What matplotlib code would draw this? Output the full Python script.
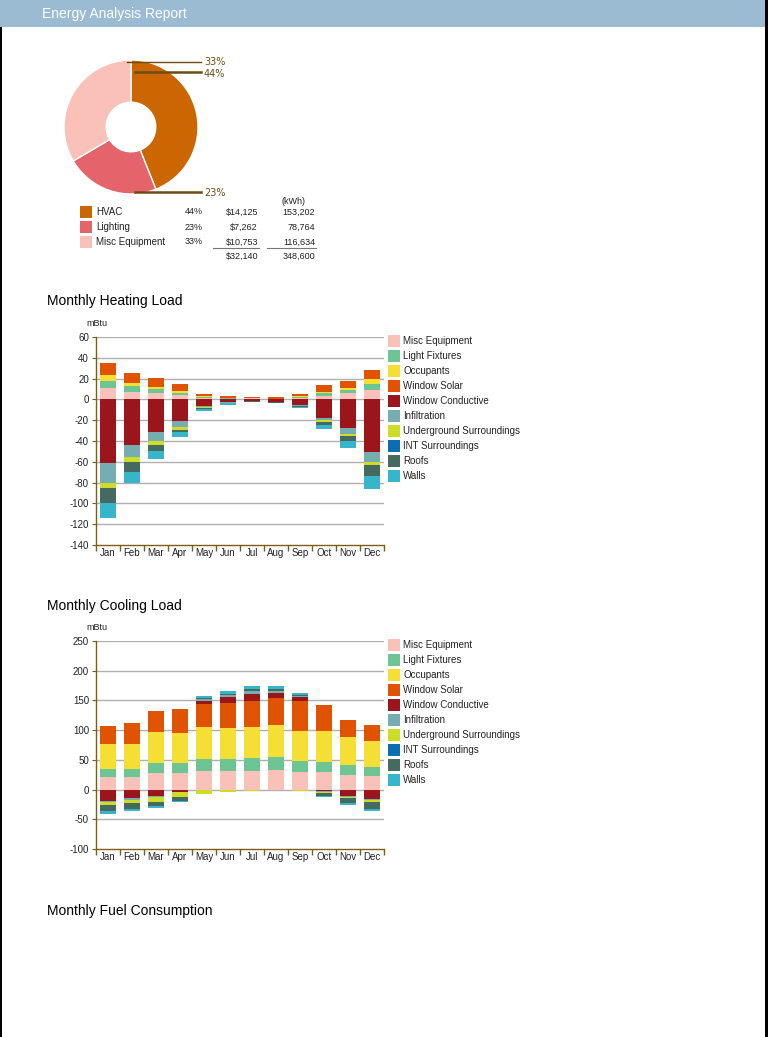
import matplotlib.pyplot as plt
from matplotlib.patches import Rectangle
from matplotlib.lines import Line2D
import numpy as np

plt.rcParams['font.family'] = ['Liberation Sans', 'DejaVu Sans']
plt.rcParams['axes.unicode_minus'] = False

W, H = 768, 1037

# ---- data ----
months = ['Jan', 'Feb', 'Mar', 'Apr', 'May', 'Jun', 'Jul', 'Aug', 'Sep', 'Oct', 'Nov', 'Dec']

pie_names = ['HVAC', 'Lighting', 'Misc Equipment']
pie_kwh = [153202, 78764, 116634]
pie_cost = [14125, 7262, 10753]

series_names = ['Misc Equipment', 'Light Fixtures', 'Occupants', 'Window Solar',
                'Window Conductive', 'Infiltration', 'Underground Surroundings',
                'INT Surroundings', 'Roofs', 'Walls']
series_colors = ['#f9c1b7', '#6cc593', '#f6df33', '#e05300', '#9b161b',
                 '#75adb0', '#cddc26', '#0b6eae', '#456b60', '#38b4cb']

heat_misc = [11, 7, 6, 4.2, 1.5, 0.8, 1.2, 0.2, 1.2, 3.2, 6.1, 8.7]
heat_light = [6.7, 5.8, 3.8, 2.2, 0.8, 0.5, 0.3, 0.3, 0.8, 3.2, 2.9, 6.0]
heat_occ = [5.8, 3.2, 2.0, 1.6, 0.8, 0.3, 0.2, 0.2, 0.8, 0.6, 1.6, 4.9]
heat_solar = [11.5, 9.3, 8.6, 6.7, 2.0, 1.6, 0.5, 1.2, 2.3, 6.8, 7.0, 8.6]
heat_cond = [-61.5, -43.9, -31.4, -20.8, -6.4, -2.6, -1.2, -2.7, -5.4, -17.9, -27.6, -50.6]
heat_infil = [-19.0, -11.2, -8.6, -5.8, -1.0, -0.5, -0.2, -0.2, -0.8, -2.2, -5.8, -9.6]
heat_under = [-4.9, -5.2, -3.9, -2.9, -1.0, -0.2, 0, 0, -0.3, -1.3, -1.6, -2.6]
heat_int = [0, 0, 0, 0, 0, 0, 0, 0, 0, 0, 0, 0]
heat_roofs = [-14.4, -9.6, -5.8, -1.9, -0.5, -0.2, -0.8, -0.3, -0.8, -2.9, -4.8, -10.6]
heat_walls = [-14.4, -10.5, -7.3, -4.8, -1.8, -1.5, 0, 0, -1.0, -3.8, -6.7, -12.8]

cool_misc = [20.8, 21.3, 27.5, 27.5, 30.9, 30.9, 30.9, 32.6, 29.8, 29.2, 24.2, 22.5]
cool_light = [13.5, 13.0, 16.9, 16.9, 20.2, 20.2, 21.9, 21.9, 18.0, 17.4, 16.8, 15.1]
cool_occ = [42.1, 42.1, 52.2, 50.6, 53.9, 52.3, 52.2, 53.9, 50.5, 51.7, 47.2, 44.4]
cool_solar = [30.3, 35.4, 35.4, 40.4, 38.8, 42.1, 43.9, 45.5, 50.6, 43.8, 28.7, 27.0]
cool_cond = [-19.7, -14.6, -11.2, -3.9, 5.6, 10.1, 11.8, 8.5, 6.7, -2.8, -11.2, -15.7]
cool_infil = [-1.7, -2.8, -1.7, -1.0, 2.3, 2.8, 5.0, 3.3, 1.7, -1.0, -1.0, -1.5]
cool_under = [-5.0, -5.6, -7.3, -7.3, -7.9, -3.9, -2.0, -1.5, -2.0, -2.2, -2.2, -3.9]
cool_int = [0, 0, 0, 0, 0, 0, 0, 0, 0, 0, 0, 0]
cool_roofs = [-10.0, -10.1, -7.9, -6.7, 1.7, 1.7, 3.4, 3.4, 1.7, -5.0, -7.9, -11.8]
cool_walls = [-5.0, -3.4, -2.8, -1.5, 3.9, 5.6, 5.1, 5.1, 3.4, -1.5, -3.4, -3.4]

heating = [heat_misc, heat_light, heat_occ, heat_solar, heat_cond, heat_infil,
           heat_under, heat_int, heat_roofs, heat_walls]
cooling = [cool_misc, cool_light, cool_occ, cool_solar, cool_cond, cool_infil,
           cool_under, cool_int, cool_roofs, cool_walls]

brown = '#7d5c14'
txt = '#222222'


def fx(x):
    return x / W


def fy(y):
    return 1 - y / H


def ftext(x, y, s, **kw):
    fig.text(fx(x), fy(y), s, **kw)


def fline(x0, x1, y0, y1, **kw):
    fig.add_artist(Line2D([fx(x0), fx(x1)], [fy(y0), fy(y1)], transform=fig.transFigure, **kw))


def frect(x, y, w, h, color):
    fig.add_artist(Rectangle((fx(x), fy(y + h)), w / W, h / H, transform=fig.transFigure,
                             facecolor=color, edgecolor='none'))


fig = plt.figure(figsize=(W / 100, H / 100), dpi=100)

# header and page borders
frect(0, 0, W, 27, '#9bbbd3')
ftext(42, 14, 'Energy Analysis Report', color='white', fontsize=10, va='center')
frect(765, 0, 3, H, 'black')
frect(0, 27, 2, H - 27, 'black')

# ---- donut ----
cx, cy, r = 131, 127, 67
axp = fig.add_axes([fx(cx - r), fy(cy + r), 2 * r / W, 2 * r / H])
pie_colors = ['#cc6600', '#e5636b', '#f9c1b7']
axp.pie(pie_kwh, colors=pie_colors, startangle=90, counterclock=False, radius=1,
        wedgeprops=dict(width=0.63, edgecolor='white', linewidth=1))
axp.set_xlim(-1, 1)
axp.set_ylim(-1, 1)
axp.set_aspect('auto')
axp.axis('off')

pct = [round(v * 100 / sum(pie_kwh)) for v in pie_kwh]
label_color = '#6b4c12'
fline(127, 201, 62, 62, color=label_color, lw=1)
ftext(204, 62, '%d%%' % pct[2], color=label_color, fontsize=7, va='center', family='DejaVu Sans')
fline(135, 201, 71.5, 71.5, color=label_color, lw=1.8)
ftext(204, 74, '%d%%' % pct[0], color=label_color, fontsize=7, va='center', family='DejaVu Sans')
fline(135, 201, 192, 192, color=label_color, lw=1.8)
ftext(204, 193, '%d%%' % pct[1], color=label_color, fontsize=7, va='center', family='DejaVu Sans')

# legend table
ftext(306, 202, '(kWh)', fontsize=6.5, color=txt, ha='right', va='center')
for i, name in enumerate(pie_names):
    y = 212 + 15 * i
    frect(80, y - 6, 12, 12, pie_colors[i])
    ftext(96, y, name, fontsize=7, color=txt, va='center')
    ftext(203, y, '%d%%' % pct[i], fontsize=6.5, color=txt, ha='right', va='center')
    ftext(258, y, '$' + format(pie_cost[i], ','), fontsize=6.5, color=txt, ha='right', va='center')
    ftext(315, y, format(pie_kwh[i], ','), fontsize=6.5, color=txt, ha='right', va='center')
fline(213, 259, 248, 248, color='#777777', lw=0.8)
fline(267, 316, 248, 248, color='#777777', lw=0.8)
ftext(258, 256, '$' + format(sum(pie_cost), ','), fontsize=6.5, color=txt, ha='right', va='center')
ftext(315, 256, format(sum(pie_kwh), ','), fontsize=6.5, color=txt, ha='right', va='center')


# ---- stacked bar charts ----
def stacked_chart(top, bottom, ymin, ymax, step, data, title, title_y):
    ax = fig.add_axes([fx(96), fy(bottom), (384 - 96) / W, (bottom - top) / H])
    x = np.arange(len(months))
    pos = np.zeros(len(months))
    neg = np.zeros(len(months))
    for vals, col in zip(data, series_colors):
        v = np.array(vals, dtype=float)
        base = np.where(v >= 0, pos, neg)
        ax.bar(x, v, bottom=base, width=0.7, color=col, linewidth=0, zorder=3)
        pos = pos + np.where(v >= 0, v, 0)
        neg = neg + np.where(v < 0, v, 0)
    ax.set_xlim(-0.5, len(months) - 0.5)
    ax.set_ylim(ymin, ymax)
    ticks = np.arange(ymin, ymax + 1, step)
    ax.set_yticks(ticks)
    for t in ticks[1:]:
        ax.axhline(t, color='#b0b0b0', lw=1, zorder=1)
    ax.set_xticks(x)
    ax.set_xticklabels(months)
    ax.set_xticks(np.arange(-0.5, len(months), 1), minor=True)
    ax.tick_params(axis='x', which='major', length=0, labelsize=7, labelcolor=txt, pad=2)
    ax.tick_params(axis='x', which='minor', length=4, color=brown, width=1)
    ax.tick_params(axis='y', length=3, color=brown, labelsize=7, labelcolor=txt, pad=2)
    for s in ['top', 'right']:
        ax.spines[s].set_visible(False)
    for s in ['left', 'bottom']:
        ax.spines[s].set_color(brown)
        ax.spines[s].set_linewidth(1)
    ax.set_facecolor('white')
    ftext(86, top - 13, 'mBtu', fontsize=6.5, color=txt, va='center')
    ftext(47, title_y, title, fontsize=10, color='black', va='center')
    for i, name in enumerate(series_names):
        y = top + 4 + 15 * i
        frect(388, y - 6, 12, 12, series_colors[i])
        ftext(403, y, name, fontsize=7, color=txt, va='center')
    return ax


stacked_chart(337, 545, -140, 60, 20, heating, 'Monthly Heating Load', 301)
stacked_chart(641, 849, -100, 250, 50, cooling, 'Monthly Cooling Load', 606)
ftext(47, 911, 'Monthly Fuel Consumption', fontsize=10, color='black', va='center')

fig.savefig('out.png', dpi=100, facecolor='white')
